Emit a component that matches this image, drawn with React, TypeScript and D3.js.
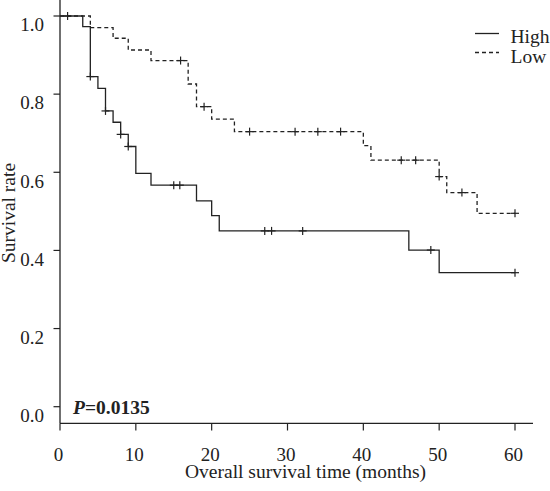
import React from "react";
import * as d3 from "d3";

const highTimes = [0, 3, 4, 5, 6, 7, 8, 9, 10, 12, 18, 20, 21, 46, 50];
const highSurv = [1.0, 0.973, 0.845, 0.815, 0.757, 0.728, 0.697, 0.666, 0.597, 0.567, 0.527, 0.489, 0.45, 0.401, 0.343];
const highCensor = [1, 4, 6, 8, 9, 15, 15.8, 27, 27.9, 32, 48.9, 60];

const lowTimes = [0, 4, 7, 9, 12, 16.9, 18, 20, 23, 40, 41, 50, 51, 55];
const lowSurv = [1.0, 0.97, 0.943, 0.913, 0.886, 0.826, 0.768, 0.736, 0.704, 0.668, 0.631, 0.589, 0.548, 0.495];
const lowCensor = [15.9, 19, 25, 31, 34, 37, 45, 46.9, 50, 53, 60];

const xTicks = [0, 10, 20, 30, 40, 50, 60];
const yTicks = [0, 0.2, 0.4, 0.6, 0.8, 1.0];
const seriesNames = ["High", "Low"];
const endTime = 60;

const FONT = "'Liberation Serif', 'Times New Roman', serif";
const INK = "#222";

function stepPoints(times: number[], surv: number[]) {
  const pts: [number, number][] = times.map((t, i) => [t, surv[i]]);
  pts.push([endTime, surv[surv.length - 1]]);
  return pts;
}

function survAt(times: number[], surv: number[], t: number) {
  let v = surv[0];
  for (let i = 0; i < times.length; i++) if (times[i] <= t) v = surv[i];
  return v;
}

export default function App() {
  const W = 550, H = 491;
  const x = d3.scaleLinear().domain([0, 60]).range([60, 515]);
  const y = d3.scaleLinear().domain([0, 1]).range([406.7, 16]);
  const line = d3.line<[number, number]>().x(d => x(d[0])).y(d => y(d[1])).curve(d3.curveStepAfter);

  const series = [
    { name: seriesNames[0], times: highTimes, surv: highSurv, censor: highCensor, dash: undefined as string | undefined },
    { name: seriesNames[1], times: lowTimes, surv: lowSurv, censor: lowCensor, dash: "4,3" },
  ];

  return (
    <div style={{ position: "fixed", left: 0, top: 0 }}>
      <svg width={W} height={H} style={{ display: "block", background: "#fff" }}>
        {/* axes */}
        <line x1={60} x2={60} y1={0} y2={423.3} stroke={INK} strokeWidth={1.3} />
        <line x1={60} x2={533} y1={423.3} y2={423.3} stroke={INK} strokeWidth={1.3} />
        {yTicks.map(t => (
          <g key={"y" + t}>
            <line x1={53.5} x2={60} y1={y(t)} y2={y(t)} stroke={INK} strokeWidth={1.2} />
            <text x={44} y={y(t) + 15.3} textAnchor="end" fontFamily={FONT} fontSize={19} fill={INK}>
              {d3.format(".1f")(t)}
            </text>
          </g>
        ))}
        {xTicks.map(t => (
          <g key={"x" + t}>
            <line x1={x(t)} x2={x(t)} y1={423.3} y2={430.5} stroke={INK} strokeWidth={1.2} />
            <text x={x(t) - 1.5} y={460.5} textAnchor="middle" fontFamily={FONT} fontSize={19} fill={INK}>
              {t}
            </text>
          </g>
        ))}
        <text x={305.5} y={477.5} textAnchor="middle" fontFamily={FONT} fontSize={19.5} fill={INK}>
          Overall survival time (months)
        </text>
        <text transform="translate(15,213) rotate(-90)" textAnchor="middle" fontFamily={FONT} fontSize={19.5} fill={INK}>
          Survival rate
        </text>

        {/* curves */}
        {series.map(s => (
          <g key={s.name}>
            <path d={line(stepPoints(s.times, s.surv)) || ""} fill="none" stroke={INK} strokeWidth={1.3} strokeDasharray={s.dash} />
            {s.censor.map((c, i) => {
              const cx = x(c), cy = y(survAt(s.times, s.surv, c));
              return (
                <g key={i} stroke={INK} strokeWidth={1.2}>
                  <line x1={cx - 4} x2={cx + 4} y1={cy} y2={cy} />
                  <line x1={cx} x2={cx} y1={cy - 4} y2={cy + 4} />
                </g>
              );
            })}
          </g>
        ))}

        {/* legend */}
        {series.map((s, i) => (
          <g key={"leg" + s.name}>
            <line x1={475} x2={499} y1={33.5 + i * 19} y2={33.5 + i * 19} stroke={INK} strokeWidth={1.3} strokeDasharray={s.dash} />
            <text x={510.5} y={43 + i * 20} fontFamily={FONT} fontSize={19.5} fill={INK}>
              {s.name}
            </text>
          </g>
        ))}

        {/* p-value */}
        <text x={73} y={414} fontFamily={FONT} fontSize={19.5} fontWeight="bold" fill={INK}>
          <tspan fontStyle="italic">P</tspan>=0.0135
        </text>
      </svg>
    </div>
  );
}
